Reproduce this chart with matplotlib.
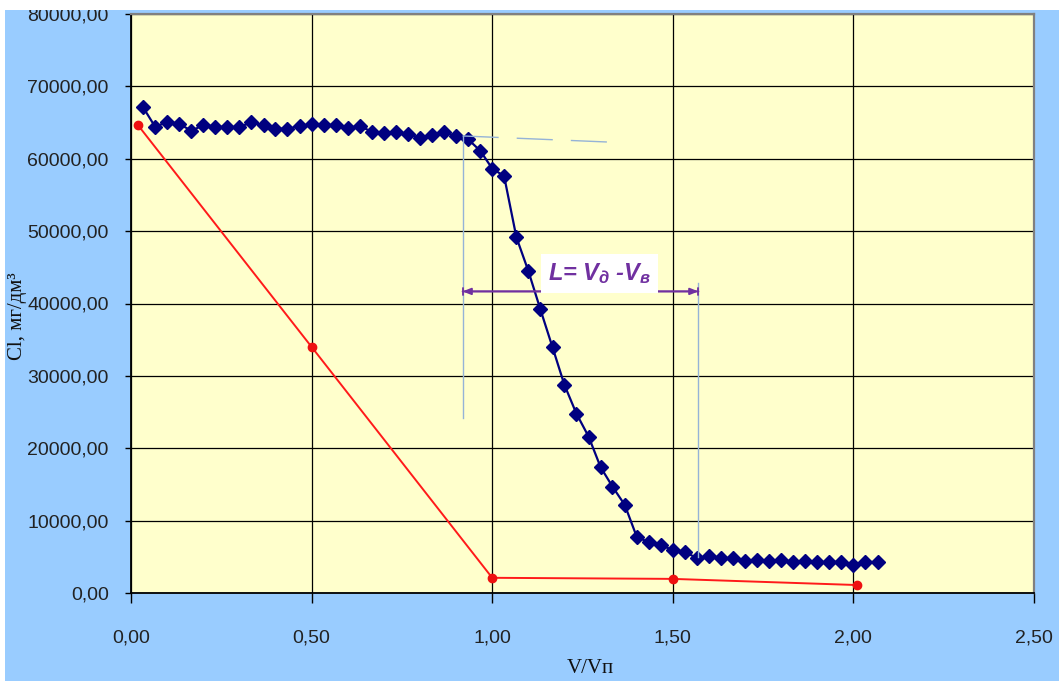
import matplotlib
matplotlib.use("Agg")
import matplotlib.pyplot as plt
from matplotlib.patches import Rectangle
from matplotlib.ticker import FuncFormatter, MultipleLocator

# concentration of Cl in the outflow vs. relative volume V/Vп
v_ratio = [0.033, 0.067, 0.100, 0.133, 0.167, 0.200, 0.233, 0.267, 0.300, 0.333,
           0.367, 0.400, 0.433, 0.467, 0.500, 0.533, 0.567, 0.600, 0.633, 0.667,
           0.700, 0.733, 0.767, 0.800, 0.833, 0.867, 0.900, 0.933, 0.967, 1.000,
           1.033, 1.067, 1.100, 1.133, 1.167, 1.200, 1.233, 1.267, 1.300, 1.333,
           1.367, 1.400, 1.433, 1.467, 1.500, 1.533, 1.567, 1.600, 1.633, 1.667,
           1.700, 1.733, 1.767, 1.800, 1.833, 1.867, 1.900, 1.933, 1.967, 2.000,
           2.033, 2.067]
cl_conc = [67150, 64400, 65100, 64850, 63850, 64650, 64450, 64350, 64350, 65050,
           64600, 64150, 64150, 64500, 64800, 64700, 64650, 64270, 64500, 63750,
           63580, 63750, 63400, 62900, 63350, 63700, 63100, 62700, 61100, 58650,
           57600, 49150, 44500, 39250, 33950, 28750, 24800, 21600, 17400, 14700,
           12170, 7790, 7000, 6600, 5950, 5700, 4800, 5050, 4800, 4800,
           4430, 4560, 4430, 4560, 4330, 4430, 4250, 4250, 4330, 3850,
           4330, 4250]

# linear (ideal) displacement curve
v_ideal = [0.02, 0.50, 1.00, 1.50, 2.01]
cl_ideal = [64600, 34000, 2100, 1950, 1100]

# bounds of the transition zone
v_start = 0.918
v_end = 1.571
c_start_top, c_start_bottom = 63150, 24200
c_end_top, c_end_bottom = 42900, 5000
c_level_end = 62300
c_arrow = 41670

plt.rcParams["mathtext.fontset"] = "custom"
plt.rcParams["mathtext.it"] = "Liberation Sans:bold:italic"
plt.rcParams["mathtext.rm"] = "Liberation Sans:bold"
plt.rcParams["mathtext.bf"] = "Liberation Sans:bold"

W, H = 1059, 681
fig = plt.figure(figsize=(W / 100, H / 100), dpi=100)
fig.patch.set_facecolor("white")

# blue chart area and the white strip along the top
fig.patches.append(Rectangle((5 / W, 0), 1, (H - 10) / H, transform=fig.transFigure,
                             facecolor="#99ccff", edgecolor="none", zorder=-5))
fig.patches.append(Rectangle((0, (H - 10) / H), 1, 10 / H, transform=fig.transFigure,
                             facecolor="white", edgecolor="none", zorder=10))

ax = fig.add_axes([131 / W, (H - 593) / H, 903 / W, 579 / H])
ax.set_facecolor("#ffffcc")

ax.plot(v_ideal, cl_ideal, color="#ff1a1a", lw=1.4, marker="o", ms=6,
        mec="#ee1111", mfc="#ee1111", zorder=3)
ax.plot(v_ratio, cl_conc, color="#000080", lw=1.6, marker="D", ms=7.5,
        mec="#000080", mfc="#000080", zorder=4)

guide = "#95b3d7"
ax.plot([v_start, v_start], [c_start_bottom, c_start_top], color=guide, lw=1, zorder=5)
ax.plot([v_end, v_end], [c_end_bottom, c_end_top], color=guide, lw=1, zorder=5)
ax.plot([v_start, 1.325], [c_start_top, c_level_end], color=guide, lw=1,
        dashes=(26, 13), zorder=5)

ax.annotate("", xy=(v_start, c_arrow), xytext=(v_end, c_arrow),
            arrowprops=dict(arrowstyle="|-|, widthA=0.25, widthB=0.25", color="#7030a0",
                            lw=1.3, shrinkA=0, shrinkB=0), zorder=6)
ax.annotate("", xy=(v_start, c_arrow), xytext=(v_end, c_arrow),
            arrowprops=dict(arrowstyle="<|-|>, head_length=0.5, head_width=0.2",
                            color="#7030a0", lw=1.3, shrinkA=0, shrinkB=0), zorder=6)
ax.text(1.298, 44100, r"$L$= $V_{д}$ -$V_{в}$", color="#7030a0", fontsize=17,
        family="Liberation Sans", weight="bold", style="italic",
        ha="center", va="center", zorder=7,
        bbox=dict(boxstyle="square,pad=0.3", facecolor="white", edgecolor="none"))

ax.set_xlim(0, 2.5)
ax.set_ylim(0, 80000)
ax.xaxis.set_major_locator(MultipleLocator(0.5))
ax.yaxis.set_major_locator(MultipleLocator(10000))
ax.xaxis.set_major_formatter(FuncFormatter(lambda v, p: f"{v:.2f}".replace(".", ",")))
ax.yaxis.set_major_formatter(FuncFormatter(lambda v, p: f"{v:.2f}".replace(".", ",")))
ax.grid(True, color="black", lw=0.9, zorder=1)
ax.set_axisbelow(True)

ax.tick_params(axis="y", direction="out", length=4.5, width=1, pad=11.5,
               labelsize=14, labelcolor="#222222")
ax.tick_params(axis="x", direction="out", length=7, width=1, pad=19,
               labelsize=14, labelcolor="#222222")
for lab in ax.get_xticklabels() + ax.get_yticklabels():
    lab.set_family("Liberation Sans")

for side in ("left", "bottom"):
    ax.spines[side].set_color("black")
    ax.spines[side].set_linewidth(1.3)
for side in ("top", "right"):
    ax.spines[side].set_color("#808080")
    ax.spines[side].set_linewidth(1.6)

ax.set_ylabel("Cl, мг/дм³", family="Liberation Serif", fontsize=15, color="#111111")
ax.yaxis.set_label_coords(-0.115, 0.478)
ax.set_xlabel("V/Vп", family="Liberation Serif", fontsize=15, color="#111111")
ax.xaxis.set_label_coords(0.509, -0.114)

fig.savefig("out.png", dpi=100)
